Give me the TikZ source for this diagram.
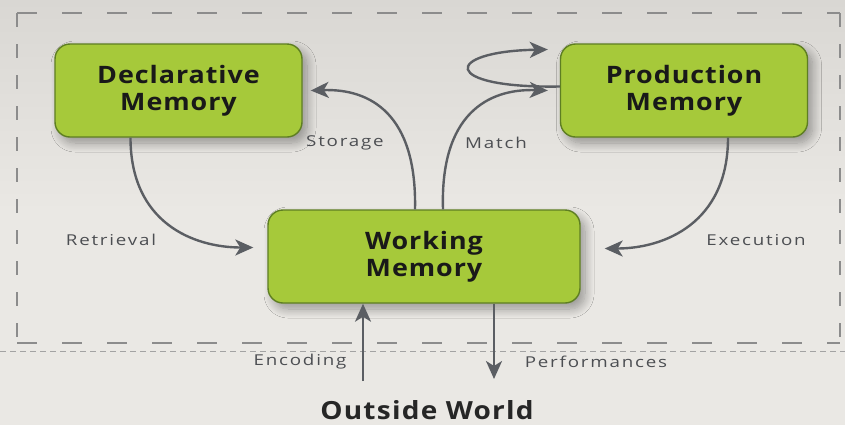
\documentclass[tikz,border=0pt]{standalone}
\usepackage{fontspec}
\setmainfont{Open Sans}
\usetikzlibrary{arrows.meta,shadows.blur}
\definecolor{bg}{HTML}{EAE8E4}
\definecolor{bgtop}{HTML}{D9D7D3}
\definecolor{boxfill}{HTML}{A6C93A}
\definecolor{boxline}{HTML}{5E7E22}
\definecolor{arr}{HTML}{5B5E63}
\definecolor{lbl}{HTML}{4C4E52}
\definecolor{framecol}{HTML}{8C8C8C}
\tikzset{
  membox/.style={draw=boxline, line width=1.4pt, fill=boxfill, rounded corners=15pt,
    minimum width=247pt, minimum height=93pt, align=center, inner sep=0pt,
    font=\fontsize{24}{27}\selectfont\bfseries\addfontfeature{FakeStretch=1.12,LetterSpace=4},
    text=black!90,
    blur shadow={shadow xshift=5pt, shadow yshift=-6pt, shadow blur steps=12, shadow blur radius=9pt, shadow opacity=35}},
  flow/.style={draw=arr, line width=2.4pt, -{Stealth[length=18pt,width=16pt,inset=5pt]}},
  lab/.style={text=lbl, font=\fontsize{15}{17}\selectfont\addfontfeature{FakeStretch=1.25,LetterSpace=12}, inner sep=0pt},
  hdash/.style={framecol, line width=2.6pt, dash pattern=on 20pt off 25pt},
  vdash/.style={framecol, line width=2.6pt, dash pattern=on 14pt off 17pt},
}
\begin{document}
\begin{tikzpicture}[x=1pt,y=-1pt]
\shade[top color=bgtop, bottom color=bg, middle color=bg] (0,0) rectangle (845,424);
\useasboundingbox (0,0) rectangle (845,424);
% outer dashed frame
\draw[hdash] (17,13) -- (840,13);
\draw[hdash] (17,343) -- (840,343);
\draw[vdash] (17,13) -- (17,343);
\draw[vdash] (840,13) -- (840,343);
\draw[framecol!80, line width=0.6pt, dash pattern=on 6pt off 4pt] (0,351) -- (845,351);
% boxes
\node[membox] (decl) at (178.5,90.5) {Declarative\\Memory};
\node[membox] (prod) at (684,90.5) {Production\\Memory};
\node[membox, minimum width=312pt] (work) at (424,256.5) {Working\\Memory};
\node[font=\fontsize{25}{28}\selectfont\bfseries\addfontfeature{FakeStretch=1.12,LetterSpace=5}, text=black!85, inner sep=0pt] (out) at (427,410) {Outside World};
% connectors
\coordinate (storeend) at ([xshift=8pt]decl.east);
\coordinate (matchend) at ([xshift=-12pt]prod.west);
\coordinate (loopend) at ([xshift=-12pt,yshift=41pt]prod.west);
\coordinate (encstart) at (363,381);
\coordinate (perfend) at (494,379);
\draw[flow] ([xshift=-9pt]work.north) .. controls +(2,-95) and +(60,-2) .. (storeend);
\draw[flow] ([xshift=19pt]work.north) .. controls +(-3,-95) and +(-60,-2) .. (matchend);
\draw[flow] ([yshift=4pt]prod.west) .. controls +(-120,2) and +(-105,2) .. (loopend);
\draw[flow] ([xshift=-48pt]decl.south) .. controls +(0,85) and +(-60,0) .. ([xshift=-14pt,yshift=9pt]work.west);
\draw[flow] ([xshift=44pt]prod.south) .. controls +(0,85) and +(60,0) .. ([xshift=24pt,yshift=8pt]work.east);
\draw[flow] (encstart) -- ([xshift=-61pt]work.south);
\draw[flow] ([xshift=70pt]work.south) -- (perfend);
% labels
\node[lab] (storage) at (345,143) {Storage};
\node[lab] (match) at (496,143) {Match};
\node[lab] (retr) at (111,240) {Retrieval};
\node[lab] (exec) at (756,240) {Execution};
\node[lab] (enc) at (300,362) {Encoding};
\node[lab] (perf) at (596,362) {Performances};
\end{tikzpicture}
\end{document}
